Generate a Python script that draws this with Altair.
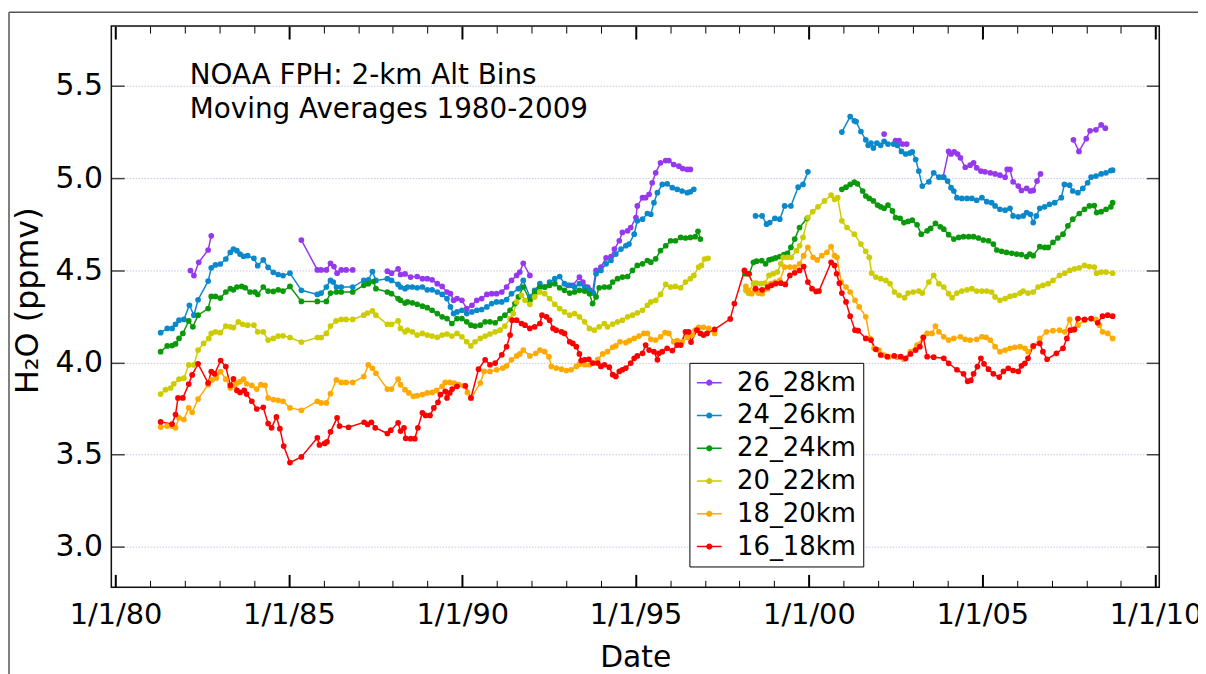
import altair as alt
import pandas as pd

FONT = "DejaVu Sans"

series_names = ["26_28km", "24_26km", "22_24km", "20_22km", "18_20km", "16_18km"]
series_colors = ["#9638ee", "#0a88cc", "#0a990a", "#cccc00", "#ffaa00", "#ff0000"]

major_years = [1980, 1985, 1990, 1995, 2000, 2005, 2010]
minor_years = [y for y in range(1980, 2011) if y % 5 != 0]
ppmv_ticks = [3.0, 3.5, 4.0, 4.5, 5.0, 5.5]

note_lines = ["NOAA FPH: 2-km Alt Bins", "Moving Averages 1980-2009"]

# (decimal year, H2O ppmv); None marks a gap in the record
h2o_26_28 = [
    (1982.16, 4.498), (1982.26, 4.471), (1982.40, 4.543), (1982.67, 4.610), (1982.76, 4.687),
    None,
    (1985.36, 4.664), (1985.82, 4.502), (1985.93, 4.502), (1986.08, 4.502), (1986.20, 4.538),
    (1986.30, 4.520), (1986.39, 4.484), (1986.51, 4.502), (1986.65, 4.502), (1986.84, 4.502),
    None,
    (1987.84, 4.495), (1987.96, 4.484), (1988.15, 4.507), (1988.22, 4.477), (1988.35, 4.480),
    (1988.51, 4.463), (1988.70, 4.466), (1988.85, 4.454), (1988.99, 4.454), (1989.13, 4.448),
    (1989.28, 4.427), (1989.42, 4.412), (1989.56, 4.382), (1989.66, 4.373), (1989.75, 4.337),
    (1989.85, 4.346), (1989.99, 4.337), (1990.13, 4.292), (1990.28, 4.310), (1990.42, 4.337),
    (1990.56, 4.346), (1990.71, 4.369), (1990.85, 4.373), (1990.99, 4.373), (1991.14, 4.382),
    (1991.28, 4.409), (1991.42, 4.445), (1991.57, 4.472), (1991.66, 4.490), (1991.76, 4.538),
    (1991.95, 4.472),
    None,
    (1993.05, 4.418), (1993.19, 4.418), (1993.38, 4.463), (1993.48, 4.436), (1993.62, 4.409),
    (1993.76, 4.382), (1993.86, 4.499), (1994.00, 4.517), (1994.15, 4.567), (1994.29, 4.574),
    (1994.39, 4.615), (1994.53, 4.660), (1994.62, 4.705), (1994.77, 4.714), (1994.86, 4.732),
    (1995.01, 4.786), (1995.05, 4.849), (1995.20, 4.894), (1995.29, 4.894), (1995.39, 4.912),
    (1995.48, 4.975), (1995.58, 5.029), (1995.72, 5.083), (1995.87, 5.095), (1995.96, 5.095),
    (1996.10, 5.074), (1996.25, 5.065), (1996.36, 5.052), (1996.49, 5.047), (1996.58, 5.047),
    None,
    (2002.17, 5.239),
    None,
    (2002.50, 5.203), (2002.60, 5.203), (2002.70, 5.185), (2002.82, 5.185),
    None,
    (2003.87, 5.005), (2004.03, 5.145), (2004.10, 5.131), (2004.19, 5.142), (2004.29, 5.131),
    (2004.37, 5.110), (2004.51, 5.059), (2004.65, 5.070), (2004.75, 5.083), (2004.84, 5.056),
    (2004.96, 5.038), (2005.08, 5.034), (2005.23, 5.029), (2005.37, 5.023), (2005.51, 5.016),
    (2005.66, 5.005), (2005.72, 5.047), (2005.80, 5.047), (2005.89, 4.980), (2006.04, 4.957),
    (2006.13, 4.933), (2006.28, 4.944), (2006.39, 4.930), (2006.47, 4.933), (2006.58, 4.984),
    (2006.68, 5.023),
    None,
    (2007.63, 5.208), (2007.79, 5.145), (2008.00, 5.214), (2008.11, 5.257), (2008.28, 5.262),
    (2008.43, 5.289), (2008.55, 5.271),
]

h2o_24_26 = [
    (1981.30, 4.161), (1981.49, 4.184), (1981.63, 4.184), (1981.73, 4.207), (1981.83, 4.229),
    (1981.97, 4.233), (1982.13, 4.310), (1982.26, 4.256), (1982.38, 4.340), (1982.67, 4.441),
    (1982.76, 4.513), (1982.88, 4.529), (1983.02, 4.534), (1983.18, 4.561), (1983.31, 4.597),
    (1983.40, 4.615), (1983.50, 4.606), (1983.59, 4.588), (1983.69, 4.576), (1983.81, 4.579),
    (1983.99, 4.565), (1984.10, 4.525), (1984.26, 4.556), (1984.40, 4.516), (1984.55, 4.489),
    (1984.69, 4.477), (1984.83, 4.471), (1985.03, 4.484), (1985.36, 4.391), (1985.82, 4.369),
    (1985.93, 4.376), (1986.08, 4.409), (1986.20, 4.445), (1986.28, 4.436), (1986.37, 4.409),
    (1986.51, 4.409), (1986.84, 4.409), (1987.16, 4.445), (1987.29, 4.448), (1987.41, 4.493),
    (1987.51, 4.445), (1987.84, 4.454), (1987.96, 4.445), (1988.15, 4.423), (1988.22, 4.409),
    (1988.35, 4.400), (1988.42, 4.409), (1988.56, 4.409), (1988.70, 4.405), (1988.85, 4.409),
    (1988.99, 4.394), (1989.13, 4.394), (1989.28, 4.382), (1989.42, 4.369), (1989.56, 4.346),
    (1989.66, 4.301), (1989.75, 4.265), (1989.85, 4.274), (1989.99, 4.283), (1990.13, 4.265),
    (1990.28, 4.274), (1990.42, 4.283), (1990.56, 4.287), (1990.71, 4.301), (1990.85, 4.319),
    (1990.99, 4.328), (1991.14, 4.328), (1991.28, 4.341), (1991.42, 4.373), (1991.62, 4.400),
    (1991.76, 4.445), (1991.95, 4.355), (1992.09, 4.391), (1992.24, 4.427), (1992.38, 4.409),
    (1992.52, 4.436), (1992.67, 4.454), (1992.81, 4.466), (1992.95, 4.427), (1993.10, 4.418),
    (1993.24, 4.409), (1993.38, 4.427), (1993.53, 4.409), (1993.67, 4.394), (1993.78, 4.376),
    (1993.86, 4.481), (1994.00, 4.499), (1994.15, 4.535), (1994.29, 4.553), (1994.43, 4.588),
    (1994.58, 4.615), (1994.72, 4.633), (1994.81, 4.642), (1994.96, 4.696), (1995.05, 4.768),
    (1995.20, 4.777), (1995.34, 4.808), (1995.44, 4.804), (1995.53, 4.867), (1995.63, 4.921),
    (1995.77, 4.966), (1995.91, 4.969), (1996.06, 4.948), (1996.20, 4.939), (1996.34, 4.930),
    (1996.49, 4.921), (1996.58, 4.926), (1996.68, 4.939),
    None,
    (1998.46, 4.795), (1998.65, 4.795), (1998.78, 4.750), (1998.87, 4.759), (1999.02, 4.782),
    (1999.16, 4.777), (1999.30, 4.849), (1999.48, 4.849), (1999.69, 4.951), (1999.83, 4.966),
    (1999.97, 5.034),
    None,
    (2000.95, 5.250), (2001.19, 5.334), (2001.31, 5.311), (2001.36, 5.307), (2001.50, 5.253),
    (2001.64, 5.208), (2001.71, 5.178), (2001.79, 5.190), (2001.86, 5.163), (2001.96, 5.190),
    (2002.07, 5.178), (2002.17, 5.199), (2002.28, 5.185), (2002.44, 5.185), (2002.55, 5.178),
    (2002.67, 5.145), (2002.79, 5.131), (2002.91, 5.136), (2002.98, 5.142), (2003.08, 5.101),
    (2003.17, 5.038), (2003.27, 4.957), (2003.46, 4.980), (2003.60, 5.029), (2003.75, 5.005),
    (2003.89, 5.005), (2004.00, 4.984), (2004.10, 4.948), (2004.18, 4.930), (2004.27, 4.894),
    (2004.41, 4.890), (2004.56, 4.890), (2004.70, 4.890), (2004.84, 4.880), (2004.99, 4.894),
    (2005.13, 4.872), (2005.27, 4.867), (2005.37, 4.849), (2005.51, 4.831), (2005.66, 4.826),
    (2005.80, 4.836), (2005.89, 4.795), (2006.04, 4.790), (2006.18, 4.795), (2006.28, 4.813),
    (2006.39, 4.804), (2006.47, 4.759), (2006.56, 4.795), (2006.66, 4.836), (2006.80, 4.844),
    (2006.94, 4.858), (2007.09, 4.867), (2007.28, 4.894), (2007.37, 4.966), (2007.52, 4.962),
    (2007.61, 4.930), (2007.76, 4.921), (2007.90, 4.944), (2008.04, 4.975), (2008.14, 5.005),
    (2008.28, 5.011), (2008.43, 5.023), (2008.57, 5.029), (2008.71, 5.041), (2008.76, 5.043),
]

h2o_22_24 = [
    (1981.30, 4.058), (1981.49, 4.089), (1981.63, 4.091), (1981.73, 4.100), (1981.83, 4.130),
    (1981.94, 4.157), (1982.11, 4.225), (1982.23, 4.193), (1982.38, 4.256), (1982.67, 4.292),
    (1982.76, 4.358), (1982.88, 4.358), (1983.02, 4.349), (1983.18, 4.382), (1983.31, 4.400),
    (1983.40, 4.394), (1983.50, 4.409), (1983.64, 4.412), (1983.74, 4.405), (1983.88, 4.382),
    (1984.02, 4.382), (1984.10, 4.369), (1984.26, 4.409), (1984.40, 4.387), (1984.55, 4.385),
    (1984.69, 4.394), (1984.83, 4.387), (1985.03, 4.412), (1985.36, 4.331), (1985.82, 4.331),
    (1986.08, 4.331), (1986.20, 4.376), (1986.37, 4.382), (1986.51, 4.382), (1986.84, 4.382),
    (1987.16, 4.418), (1987.29, 4.427), (1987.44, 4.439), (1987.51, 4.400), (1987.84, 4.382),
    (1987.96, 4.373), (1988.15, 4.346), (1988.22, 4.337), (1988.35, 4.322), (1988.42, 4.328),
    (1988.56, 4.323), (1988.70, 4.315), (1988.85, 4.305), (1988.99, 4.297), (1989.13, 4.283),
    (1989.28, 4.265), (1989.42, 4.247), (1989.56, 4.238), (1989.70, 4.211), (1989.85, 4.238),
    (1989.99, 4.238), (1990.13, 4.220), (1990.25, 4.202), (1990.37, 4.197), (1990.52, 4.202),
    (1990.66, 4.220), (1990.80, 4.220), (1990.95, 4.215), (1991.09, 4.238), (1991.23, 4.256),
    (1991.38, 4.283), (1991.52, 4.319), (1991.62, 4.355), (1991.76, 4.409), (1991.95, 4.337),
    (1992.09, 4.382), (1992.24, 4.409), (1992.38, 4.409), (1992.52, 4.418), (1992.67, 4.427),
    (1992.81, 4.405), (1992.95, 4.391), (1993.10, 4.376), (1993.24, 4.382), (1993.38, 4.391),
    (1993.53, 4.387), (1993.67, 4.373), (1993.76, 4.319), (1993.86, 4.355), (1993.95, 4.405),
    (1994.10, 4.409), (1994.24, 4.409), (1994.34, 4.436), (1994.48, 4.454), (1994.62, 4.463),
    (1994.77, 4.466), (1994.91, 4.499), (1995.05, 4.526), (1995.20, 4.535), (1995.34, 4.553),
    (1995.44, 4.544), (1995.58, 4.562), (1995.72, 4.607), (1995.87, 4.633), (1996.01, 4.660),
    (1996.15, 4.660), (1996.30, 4.678), (1996.44, 4.675), (1996.58, 4.678), (1996.72, 4.682),
    (1996.80, 4.711), (1996.87, 4.669),
    None,
    (1998.16, 4.481), (1998.28, 4.481), (1998.40, 4.543), (1998.49, 4.549), (1998.64, 4.552),
    (1998.75, 4.535), (1998.85, 4.556), (1998.94, 4.561), (1999.04, 4.567), (1999.16, 4.574),
    (1999.28, 4.585), (1999.38, 4.592), (1999.48, 4.624), (1999.59, 4.669), (1999.73, 4.732),
    (1999.95, 4.782),
    None,
    (2000.95, 4.939), (2001.07, 4.951), (2001.19, 4.966), (2001.31, 4.978), (2001.40, 4.969),
    (2001.55, 4.930), (2001.64, 4.903), (2001.74, 4.890), (2001.86, 4.876), (2001.98, 4.854),
    (2002.07, 4.844), (2002.17, 4.836), (2002.28, 4.854), (2002.41, 4.822), (2002.50, 4.786),
    (2002.63, 4.782), (2002.74, 4.759), (2002.86, 4.765), (2002.98, 4.772), (2003.12, 4.747),
    (2003.24, 4.696), (2003.41, 4.714), (2003.51, 4.727), (2003.65, 4.754), (2003.79, 4.736),
    (2003.89, 4.723), (2004.03, 4.693), (2004.18, 4.669), (2004.32, 4.678), (2004.46, 4.682),
    (2004.61, 4.682), (2004.75, 4.682), (2004.89, 4.675), (2005.03, 4.664), (2005.18, 4.660),
    (2005.32, 4.642), (2005.42, 4.610), (2005.56, 4.603), (2005.70, 4.597), (2005.85, 4.592),
    (2005.99, 4.588), (2006.13, 4.585), (2006.28, 4.574), (2006.37, 4.588), (2006.47, 4.579),
    (2006.66, 4.628), (2006.80, 4.624), (2006.90, 4.624), (2007.04, 4.651), (2007.18, 4.675),
    (2007.33, 4.696), (2007.47, 4.741), (2007.61, 4.777), (2007.80, 4.808), (2007.95, 4.831),
    (2008.09, 4.849), (2008.23, 4.851), (2008.30, 4.813), (2008.43, 4.818), (2008.57, 4.831),
    (2008.71, 4.844), (2008.76, 4.867),
]

h2o_20_22 = [
    (1981.30, 3.828), (1981.44, 3.852), (1981.59, 3.861), (1981.68, 3.884), (1981.83, 3.909),
    (1981.97, 3.914), (1982.11, 3.986), (1982.26, 3.986), (1982.38, 4.067), (1982.54, 4.103),
    (1982.69, 4.130), (1982.76, 4.157), (1982.88, 4.166), (1983.02, 4.161), (1983.18, 4.197),
    (1983.31, 4.193), (1983.40, 4.189), (1983.54, 4.220), (1983.67, 4.207), (1983.81, 4.202),
    (1983.99, 4.202), (1984.10, 4.166), (1984.26, 4.166), (1984.40, 4.121), (1984.55, 4.130),
    (1984.69, 4.143), (1984.83, 4.144), (1985.03, 4.135), (1985.36, 4.110), (1985.82, 4.135),
    (1985.93, 4.135), (1986.08, 4.157), (1986.20, 4.197), (1986.36, 4.225), (1986.51, 4.233),
    (1986.65, 4.233), (1986.84, 4.233), (1987.16, 4.256), (1987.27, 4.268), (1987.41, 4.279),
    (1987.51, 4.256), (1987.84, 4.207), (1987.96, 4.207), (1988.15, 4.225), (1988.22, 4.184),
    (1988.35, 4.166), (1988.42, 4.175), (1988.56, 4.166), (1988.70, 4.148), (1988.85, 4.157),
    (1988.99, 4.148), (1989.13, 4.143), (1989.28, 4.136), (1989.42, 4.148), (1989.56, 4.154),
    (1989.70, 4.143), (1989.85, 4.157), (1989.99, 4.139), (1990.13, 4.112), (1990.25, 4.089),
    (1990.37, 4.112), (1990.52, 4.130), (1990.66, 4.143), (1990.80, 4.154), (1990.95, 4.166),
    (1991.09, 4.175), (1991.23, 4.197), (1991.38, 4.238), (1991.47, 4.265), (1991.57, 4.328),
    (1991.71, 4.364), (1991.81, 4.337), (1991.95, 4.315), (1992.09, 4.355), (1992.24, 4.382),
    (1992.38, 4.373), (1992.52, 4.346), (1992.67, 4.315), (1992.81, 4.292), (1992.95, 4.274),
    (1993.10, 4.256), (1993.24, 4.265), (1993.38, 4.247), (1993.53, 4.220), (1993.67, 4.184),
    (1993.81, 4.175), (1993.95, 4.193), (1994.10, 4.211), (1994.19, 4.193), (1994.34, 4.208),
    (1994.48, 4.220), (1994.62, 4.229), (1994.77, 4.247), (1994.91, 4.256), (1995.05, 4.269),
    (1995.20, 4.283), (1995.34, 4.310), (1995.44, 4.328), (1995.58, 4.337), (1995.72, 4.369),
    (1995.87, 4.423), (1996.01, 4.409), (1996.15, 4.412), (1996.30, 4.405), (1996.44, 4.436),
    (1996.58, 4.454), (1996.68, 4.472), (1996.82, 4.517), (1996.90, 4.526), (1996.99, 4.561),
    (1997.09, 4.565),
    None,
    (1998.18, 4.391), (1998.25, 4.376), (1998.40, 4.430), (1998.49, 4.430), (1998.62, 4.427),
    (1998.73, 4.430), (1998.85, 4.472), (1998.97, 4.481), (1999.09, 4.490), (1999.19, 4.535),
    (1999.26, 4.570), (1999.38, 4.570), (1999.49, 4.570), (1999.64, 4.606), (1999.73, 4.633),
    (1999.83, 4.678), (1999.97, 4.786), (2000.11, 4.818), (2000.26, 4.844), (2000.45, 4.876),
    (2000.64, 4.908), (2000.74, 4.885), (2000.83, 4.894), (2000.95, 4.768), (2001.10, 4.732),
    (2001.31, 4.696), (2001.50, 4.642), (2001.64, 4.603), (2001.74, 4.570), (2001.81, 4.484),
    (2001.93, 4.463), (2002.07, 4.454), (2002.22, 4.445), (2002.34, 4.427), (2002.47, 4.382),
    (2002.60, 4.364), (2002.76, 4.351), (2002.86, 4.376), (2003.01, 4.382), (2003.17, 4.387),
    (2003.27, 4.376), (2003.46, 4.436), (2003.60, 4.472), (2003.75, 4.427), (2003.89, 4.409),
    (2004.03, 4.373), (2004.13, 4.351), (2004.27, 4.376), (2004.41, 4.387), (2004.56, 4.394),
    (2004.70, 4.400), (2004.84, 4.387), (2004.99, 4.387), (2005.13, 4.387), (2005.27, 4.382),
    (2005.37, 4.355), (2005.51, 4.337), (2005.66, 4.346), (2005.80, 4.358), (2005.94, 4.364),
    (2006.09, 4.376), (2006.18, 4.387), (2006.32, 4.376), (2006.47, 4.382), (2006.61, 4.409),
    (2006.75, 4.418), (2006.90, 4.427), (2007.04, 4.445), (2007.23, 4.472), (2007.38, 4.484),
    (2007.52, 4.499), (2007.66, 4.508), (2007.80, 4.513), (2007.95, 4.526), (2008.09, 4.520),
    (2008.23, 4.517), (2008.30, 4.484), (2008.43, 4.490), (2008.57, 4.490), (2008.76, 4.484),
]

h2o_18_20 = [
    (1981.30, 3.649), (1981.49, 3.654), (1981.63, 3.654), (1981.73, 3.645), (1981.83, 3.699),
    (1981.97, 3.690), (1982.11, 3.753), (1982.21, 3.729), (1982.38, 3.801), (1982.67, 3.879),
    (1982.78, 3.905), (1982.90, 3.914), (1983.03, 3.950), (1983.18, 3.909), (1983.31, 3.861),
    (1983.40, 3.875), (1983.50, 3.888), (1983.59, 3.896), (1983.69, 3.909), (1983.78, 3.884),
    (1983.93, 3.875), (1984.07, 3.855), (1984.19, 3.879), (1984.31, 3.875), (1984.40, 3.807),
    (1984.55, 3.798), (1984.69, 3.794), (1984.83, 3.789), (1985.03, 3.753), (1985.36, 3.740),
    (1985.82, 3.789), (1985.93, 3.780), (1986.08, 3.780), (1986.20, 3.830), (1986.37, 3.905),
    (1986.51, 3.891), (1986.65, 3.891), (1986.84, 3.891), (1987.16, 3.923), (1987.29, 3.986),
    (1987.41, 3.968), (1987.51, 3.941), (1987.84, 3.855), (1987.96, 3.855), (1988.15, 3.909),
    (1988.22, 3.879), (1988.35, 3.852), (1988.46, 3.834), (1988.59, 3.816), (1988.70, 3.819),
    (1988.85, 3.825), (1988.99, 3.834), (1989.13, 3.837), (1989.26, 3.848), (1989.42, 3.870),
    (1989.51, 3.891), (1989.64, 3.891), (1989.77, 3.888), (1989.90, 3.879), (1990.04, 3.873),
    (1990.15, 3.837), (1990.26, 3.807), (1990.52, 3.888), (1990.63, 3.951), (1990.80, 3.951),
    (1990.99, 3.960), (1991.17, 3.969), (1991.28, 3.981), (1991.42, 4.014), (1991.57, 4.035),
    (1991.66, 4.046), (1991.76, 4.067), (1991.95, 4.035), (1992.12, 4.049), (1992.24, 4.067),
    (1992.38, 4.058), (1992.50, 4.031), (1992.57, 3.978), (1992.71, 3.969), (1992.86, 3.963),
    (1993.00, 3.956), (1993.14, 3.960), (1993.29, 3.978), (1993.38, 3.990), (1993.53, 3.987),
    (1993.67, 3.987), (1993.81, 3.996), (1993.91, 4.017), (1994.05, 4.046), (1994.19, 4.058),
    (1994.34, 4.082), (1994.43, 4.089), (1994.55, 4.112), (1994.72, 4.107), (1994.82, 4.118),
    (1994.96, 4.130), (1995.10, 4.143), (1995.24, 4.157), (1995.34, 4.157), (1995.44, 4.125),
    (1995.58, 4.121), (1995.72, 4.139), (1995.85, 4.161), (1995.96, 4.157), (1996.10, 4.112),
    (1996.20, 4.118), (1996.34, 4.112), (1996.49, 4.136), (1996.63, 4.148), (1996.72, 4.175),
    (1996.82, 4.190), (1996.96, 4.190), (1997.11, 4.184), (1997.28, 4.157),
    None,
    (1998.18, 4.412), (1998.25, 4.391), (1998.35, 4.373), (1998.44, 4.391), (1998.54, 4.376),
    (1998.65, 4.373), (1998.81, 4.400), (1998.90, 4.427), (1999.02, 4.436), (1999.16, 4.445),
    (1999.30, 4.517), (1999.45, 4.517), (1999.59, 4.517), (1999.73, 4.535), (1999.85, 4.579),
    (1999.97, 4.624), (2000.12, 4.570), (2000.24, 4.556), (2000.37, 4.579), (2000.52, 4.597),
    (2000.64, 4.628), (2000.74, 4.579), (2000.81, 4.570), (2000.93, 4.436), (2001.07, 4.409),
    (2001.19, 4.382), (2001.33, 4.337), (2001.45, 4.301), (2001.64, 4.247), (2001.76, 4.130),
    (2001.88, 4.076), (2002.02, 4.067), (2002.17, 4.040), (2002.31, 4.031), (2002.55, 4.028),
    (2002.74, 4.017), (2002.93, 4.058), (2003.12, 4.094), (2003.30, 4.136), (2003.41, 4.157),
    (2003.55, 4.157), (2003.65, 4.197), (2003.75, 4.166), (2003.89, 4.139), (2004.03, 4.121),
    (2004.18, 4.130), (2004.37, 4.139), (2004.51, 4.125), (2004.65, 4.121), (2004.84, 4.125),
    (2004.99, 4.139), (2005.11, 4.136), (2005.23, 4.121), (2005.37, 4.085), (2005.51, 4.058),
    (2005.66, 4.067), (2005.80, 4.076), (2005.94, 4.082), (2006.09, 4.085), (2006.23, 4.076),
    (2006.32, 4.058), (2006.47, 4.085), (2006.66, 4.130), (2006.85, 4.166), (2007.04, 4.172),
    (2007.23, 4.175), (2007.38, 4.166), (2007.52, 4.233), (2007.61, 4.175), (2007.76, 4.202),
    (2007.95, 4.229), (2008.14, 4.238), (2008.28, 4.233), (2008.38, 4.202), (2008.47, 4.166),
    (2008.62, 4.157), (2008.76, 4.130),
]

h2o_16_18 = [
    (1981.30, 3.677), (1981.63, 3.665), (1981.73, 3.717), (1981.80, 3.807), (1981.94, 3.807),
    (1982.11, 3.882), (1982.21, 3.932), (1982.38, 3.992), (1982.67, 3.888), (1982.76, 3.950),
    (1982.86, 3.938), (1983.03, 4.010), (1983.18, 3.977), (1983.31, 3.875), (1983.40, 3.911),
    (1983.50, 3.848), (1983.59, 3.837), (1983.71, 3.848), (1983.78, 3.828), (1983.93, 3.789),
    (1984.07, 3.747), (1984.26, 3.756), (1984.40, 3.668), (1984.50, 3.645), (1984.64, 3.704),
    (1984.74, 3.640), (1984.85, 3.546), (1985.03, 3.456), (1985.36, 3.487), (1985.82, 3.591),
    (1985.88, 3.552), (1986.03, 3.560), (1986.10, 3.569), (1986.20, 3.623), (1986.39, 3.699),
    (1986.46, 3.654), (1986.72, 3.648), (1987.17, 3.675), (1987.27, 3.663), (1987.38, 3.675),
    (1987.49, 3.645), (1987.84, 3.614), (1987.94, 3.632), (1988.15, 3.672), (1988.22, 3.627),
    (1988.32, 3.645), (1988.37, 3.588), (1988.51, 3.586), (1988.63, 3.586), (1988.72, 3.645),
    (1988.85, 3.726), (1988.94, 3.712), (1989.07, 3.712), (1989.18, 3.753), (1989.30, 3.783),
    (1989.37, 3.825), (1989.51, 3.843), (1989.56, 3.807), (1989.64, 3.834), (1989.71, 3.855),
    (1989.85, 3.870), (1990.09, 3.873), (1990.25, 3.807), (1990.47, 3.963), (1990.66, 4.014),
    (1990.80, 3.987), (1990.95, 3.996), (1991.14, 4.041), (1991.28, 4.085), (1991.38, 4.148),
    (1991.44, 4.229), (1991.57, 4.229), (1991.71, 4.211), (1991.81, 4.202), (1991.95, 4.184),
    (1992.09, 4.193), (1992.24, 4.211), (1992.30, 4.256), (1992.43, 4.247), (1992.52, 4.229),
    (1992.62, 4.184), (1992.71, 4.175), (1992.86, 4.166), (1992.95, 4.157), (1993.10, 4.112),
    (1993.19, 4.103), (1993.29, 4.085), (1993.38, 4.046), (1993.43, 4.010), (1993.53, 4.014),
    (1993.65, 4.017), (1993.76, 3.996), (1993.91, 3.996), (1994.00, 3.978), (1994.10, 3.987),
    (1994.24, 3.974), (1994.34, 3.933), (1994.43, 3.924), (1994.53, 3.951), (1994.62, 3.960),
    (1994.72, 3.969), (1994.86, 3.996), (1994.96, 4.022), (1995.05, 4.035), (1995.20, 4.049),
    (1995.29, 4.094), (1995.39, 4.067), (1995.53, 4.058), (1995.63, 4.014), (1995.67, 4.049),
    (1995.77, 4.058), (1995.91, 4.076), (1996.06, 4.064), (1996.20, 4.094), (1996.30, 4.094),
    (1996.44, 4.166), (1996.53, 4.166), (1996.60, 4.110), (1996.77, 4.175), (1996.87, 4.157),
    (1996.96, 4.148), (1997.06, 4.157), (1997.28, 4.179), (1997.73, 4.236), (1997.85, 4.319),
    (1998.14, 4.499), (1998.25, 4.481), (1998.46, 4.400), (1998.65, 4.394), (1998.81, 4.409),
    (1998.92, 4.418), (1999.04, 4.427), (1999.19, 4.430), (1999.32, 4.423), (1999.45, 4.472),
    (1999.59, 4.486), (1999.73, 4.499), (1999.85, 4.520), (1999.97, 4.436), (2000.09, 4.400),
    (2000.21, 4.385), (2000.29, 4.387), (2000.64, 4.543), (2000.74, 4.526), (2000.80, 4.481),
    (2000.88, 4.430), (2000.95, 4.376), (2001.07, 4.328), (2001.19, 4.251), (2001.33, 4.175),
    (2001.42, 4.172), (2001.64, 4.130), (2001.79, 4.121), (2001.93, 4.071), (2002.07, 4.040),
    (2002.26, 4.031), (2002.46, 4.035), (2002.65, 4.031), (2002.79, 4.022), (2002.93, 4.046),
    (2003.08, 4.067), (2003.20, 4.085), (2003.30, 4.136), (2003.41, 4.031), (2003.60, 4.028),
    (2003.89, 4.022), (2004.03, 3.995), (2004.27, 3.960), (2004.46, 3.938), (2004.58, 3.897),
    (2004.67, 3.902), (2004.75, 3.938), (2004.86, 3.977), (2004.96, 4.022), (2005.05, 3.992),
    (2005.18, 3.963), (2005.32, 3.938), (2005.49, 3.920), (2005.61, 3.951), (2005.75, 3.968),
    (2005.89, 3.956), (2006.04, 3.951), (2006.13, 3.981), (2006.23, 3.995), (2006.32, 4.022),
    (2006.47, 4.089), (2006.66, 4.103), (2006.75, 4.058), (2006.87, 4.017), (2007.14, 4.049),
    (2007.33, 4.076), (2007.44, 4.130), (2007.54, 4.175), (2007.66, 4.179), (2007.76, 4.238),
    (2007.95, 4.233), (2008.14, 4.238), (2008.33, 4.215), (2008.47, 4.251), (2008.62, 4.256),
    (2008.76, 4.251),
]

all_series = [h2o_26_28, h2o_24_26, h2o_22_24, h2o_20_22, h2o_18_20, h2o_16_18]

rows = []
for name, pts in zip(series_names, all_series):
    seg = 0
    for i, p in enumerate(pts):
        if p is None:
            seg += 1
            continue
        rows.append({"series": name, "segment": f"{name}-{seg}", "date": p[0], "ppmv": p[1], "idx": i})
df = pd.DataFrame(rows)

tick_df = pd.DataFrame({"date": major_years[:2], "ppmv": ppmv_ticks[:2]})
one_row = pd.DataFrame({"k": [0]})

W, H = 1055, 565
x_scale = alt.Scale(domain=[1979.877, 2010.106], nice=False, zero=False)
y_scale = alt.Scale(domain=[2.779, 5.825], nice=False, zero=False)
color_scale = alt.Scale(domain=series_names, range=series_colors)

main_x_axis = alt.Axis(
    orient="bottom", values=major_years,
    labelExpr="'1/1/' + substring(toString(datum.value), 2)",
    ticks=False, domain=False, grid=False, labelFontSize=29, labelPadding=13,
    labelFlush=False, labelOverlap=False, labelColor="black", labelFont=FONT,
    title="Date", titleFontSize=30, titleFontWeight="normal", titleFont=FONT,
    titleColor="black", titleY=80, titleBaseline="alphabetic",
)
main_y_axis = alt.Axis(
    orient="left", values=ppmv_ticks, format=".1f", ticks=False, domain=False,
    grid=True, gridColor="#c4c4f0", gridDash=[1.5, 1.5], gridWidth=1,
    labelFontSize=30, labelPadding=9, labelColor="black", labelFont=FONT,
    title="H₂O (ppmv)", titleFontSize=32, titleFontWeight="normal", titleFont=FONT,
    titleColor="black", titleX=-74, titleY=276, titleBaseline="alphabetic", titleAngle=270,
)

lines = alt.Chart(df).mark_line(strokeWidth=1.5).encode(
    x=alt.X("date:Q", scale=x_scale, axis=main_x_axis),
    y=alt.Y("ppmv:Q", scale=y_scale, axis=main_y_axis),
    color=alt.Color("series:N", scale=color_scale, legend=None),
    detail="segment:N",
    order="idx:Q",
)

legend_symbol = (
    "M-1,-0.06H1V0.06H-1Z "
    "M0.25,0A0.25,0.25,0,1,1,-0.25,0A0.25,0.25,0,1,1,0.25,0Z"
)
points = alt.Chart(df).mark_circle(size=33, opacity=1).encode(
    x=alt.X("date:Q", scale=x_scale, axis=None),
    y=alt.Y("ppmv:Q", scale=y_scale, axis=None),
    color=alt.Color(
        "series:N", scale=color_scale,
        legend=alt.Legend(
            title=None, orient="none", legendX=582, legendY=339,
            strokeColor="black", fillColor="white", padding=7,
            symbolType=legend_symbol, symbolSize=625, symbolStrokeWidth=0,
            symbolOpacity=1, labelFontSize=26, labelFont=FONT, labelColor="black",
            labelOffset=15, rowPadding=7,
        ),
    ),
)


def tick_axis(orient, values, size, width, color):
    return alt.Axis(
        orient=orient, values=values, offset=-size, tickSize=size, tickWidth=width,
        tickColor=color, labels=False, domain=False, grid=False, title=None,
    )


def tick_layer(xaxis, yaxis):
    return alt.Chart(tick_df).mark_point(opacity=0).encode(
        x=alt.X("date:Q", scale=x_scale, axis=xaxis),
        y=alt.Y("ppmv:Q", scale=y_scale, axis=yaxis),
    )


ticks_a = tick_layer(tick_axis("bottom", major_years, 13, 2, "black"),
                     tick_axis("left", ppmv_ticks, 13, 1.5, "#444444"))
ticks_b = tick_layer(tick_axis("bottom", minor_years, 7, 1, "black"),
                     tick_axis("right", ppmv_ticks, 13, 1.5, "#444444"))
ticks_c = tick_layer(tick_axis("top", major_years, 13, 2, "black"), None)
ticks_d = tick_layer(tick_axis("top", minor_years, 7, 1, "black"), None)

note = alt.Chart(one_row).mark_text(
    text=note_lines, align="left", baseline="alphabetic", fontSize=28, font=FONT,
    color="black", lineHeight=35,
).encode(x=alt.value(79), y=alt.value(58))

frame_left = alt.Chart(one_row).mark_rule(color="#555555", strokeWidth=1.5).encode(
    x=alt.value(-103), y=alt.value(-14), y2=alt.value(700))
frame_top = alt.Chart(one_row).mark_rule(color="#555555", strokeWidth=1.5).encode(
    x=alt.value(-103), x2=alt.value(1200), y=alt.value(-14))
plot_box = alt.Chart(one_row).mark_rect(
    fillOpacity=0, stroke="#111111", strokeWidth=1.5
).encode(x=alt.value(0), x2=alt.value(W), y=alt.value(0), y2=alt.value(H))

chart = (
    alt.layer(frame_left, frame_top, lines, points, ticks_a, ticks_b, ticks_c, ticks_d,
              note, plot_box)
    .resolve_axis(x="independent", y="independent")
    .resolve_legend(color="independent")
    .properties(
        width=W, height=H,
        padding={"left": 104, "top": 16, "right": 39, "bottom": 85},
        autosize=alt.AutoSizeParams(type="none"),
        background="white",
    )
    .configure_view(stroke=None, strokeWidth=0)
    .configure(font=FONT)
)

chart.save("out.html", embed_options={"renderer": "svg", "actions": False})
